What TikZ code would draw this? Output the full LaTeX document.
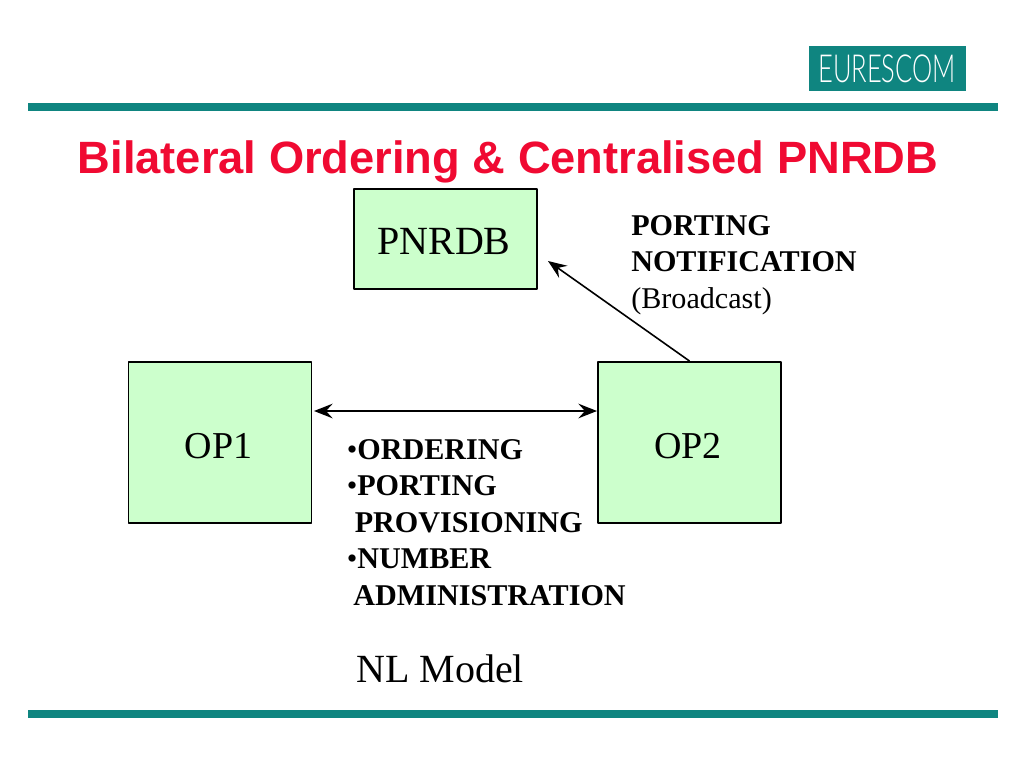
\documentclass[tikz,border=0pt]{standalone}
\usepackage{fontspec}
\setmainfont{Liberation Serif}
\newfontfamily\titlefont{Liberation Sans}
\newfontfamily\logofont{Lato Light}
\usetikzlibrary{arrows.meta}
\definecolor{teal1}{HTML}{0F8580}
\definecolor{boxgreen}{HTML}{CCFFCC}
\definecolor{titlered}{HTML}{F00A32}
\tikzset{
  x=0.75pt,y=-0.75pt,
  bar/.style={fill=teal1,draw=none},
  opbox/.style={draw=black,fill=boxgreen,line width=1.2pt,line join=round,minimum width=137pt,minimum height=121pt,inner sep=0pt},
  boxtext/.style={inner sep=0pt,font=\fontsize{28.5}{30}\selectfont},
  blabel/.style={align=left,anchor=north west,inner sep=0pt,font=\fontsize{22.6}{27.4}\selectfont},
  conn/.style={line width=1.2pt,-{Stealth[length=14pt,width=11pt,inset=5pt]}},
  conn2/.style={line width=1.2pt,{Stealth[length=14pt,width=11pt,inset=5pt]}-{Stealth[length=14pt,width=11pt,inset=5pt]}}
}
\begin{document}
\begin{tikzpicture}
\useasboundingbox (0,0) rectangle (1024,768);
\fill[white] (0,0) rectangle (1024,768);
\fill[bar] (28,103) rectangle (998,111);
\fill[bar] (28,710) rectangle (998,718);
\node[fill=teal1,minimum width=117.75pt,minimum height=33.75pt,inner sep=0pt] (logo) at (887.5,68.5) {};
\node[text=white,inner sep=0pt,font=\logofont\fontsize{29}{29}\selectfont,xscale=0.66,transform shape] (logotext) at (887,68.5) {EURESCOM};
\node[inner sep=0pt,text=titlered,font=\titlefont\bfseries\fontsize{33.95}{36}\selectfont] (title) at (508,162) {Bilateral Ordering \& Centralised PNRDB};
\node[opbox,minimum height=75pt] (pnrdb) at (445.5,239) {};
\node[inner sep=0pt,font=\fontsize{30}{30}\selectfont] (pnrdbt) at (444,241) {PNRDB};
\node[opbox] (op1) at (220,442.5) {};
\node[boxtext] (op1t) at (218.5,446) {OP1};
\node[opbox] (op2) at (689.5,442.5) {};
\node[boxtext] (op2t) at (688,446) {OP2};
\coordinate (arrowtip) at (548,261);
\coordinate (a1) at (314,411);
\coordinate (a2) at (597,411);
\draw[conn] (op2.north) -- (arrowtip);
\draw[conn2] (a1) -- (a2);
\node[blabel] (portnote) at (631,215) {\textbf{PORTING}\\\textbf{NOTIFICATION}\\(Broadcast)};
\node[blabel] (list) at (346.5,439) {•\textbf{ORDERING}\\•\textbf{PORTING}\\\hspace*{6pt}\textbf{PROVISIONING}\\•\textbf{NUMBER}\\\hspace*{5pt}\textbf{ADMINISTRATION}};
\node[inner sep=0pt,anchor=west,font=\fontsize{30}{30}\selectfont] (model) at (356,669) {NL Model};
\end{tikzpicture}
\end{document}
